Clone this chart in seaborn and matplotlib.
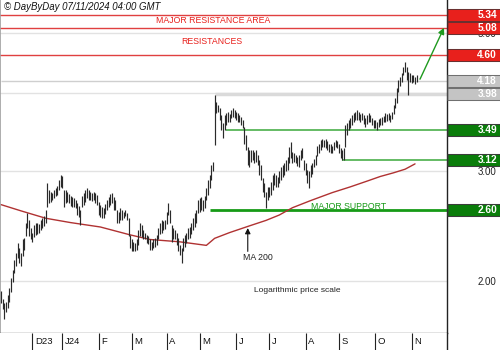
import matplotlib
matplotlib.use("Agg")
import matplotlib.pyplot as plt
import matplotlib.ticker as mticker
import matplotlib.transforms as mtransforms
import numpy as np
import pandas as pd
import seaborn as sns

# ---------------- data ----------------
highs = [
    1.93, 1.87, 1.84, 1.85, 1.90, 1.95, 2.02, 2.08, 2.16, 2.22,
    2.30, 2.26, 2.22, 2.33, 2.34, 2.48, 2.57, 2.50, 2.43, 2.39,
    2.46, 2.48, 2.48, 2.47, 2.50, 2.52, 2.54, 2.60, 2.87, 2.80,
    2.78, 2.77, 2.80, 2.82, 2.84, 2.90, 2.96, 2.95, 2.80, 2.80,
    2.78, 2.76, 2.74, 2.73, 2.72, 2.70, 2.67, 2.64, 2.60, 2.74,
    2.77, 2.80, 2.82, 2.80, 2.78, 2.77, 2.78, 2.77, 2.75, 2.68,
    2.65, 2.63, 2.62, 2.66, 2.70, 2.73, 2.76, 2.77, 2.73, 2.70,
    2.60, 2.58, 2.62, 2.60, 2.58, 2.60, 2.57, 2.52, 2.37, 2.33,
    2.31, 2.30, 2.33, 2.41, 2.48, 2.46, 2.41, 2.39, 2.37, 2.36,
    2.33, 2.31, 2.33, 2.34, 2.37, 2.43, 2.48, 2.50, 2.49, 2.50,
    2.58, 2.67, 2.60, 2.46, 2.43, 2.41, 2.39, 2.34, 2.28, 2.26,
    2.34, 2.37, 2.39, 2.43, 2.44, 2.48, 2.52, 2.57, 2.60, 2.70,
    2.72, 2.73, 2.70, 2.74, 2.82, 2.90, 2.96, 3.07, 3.10, 3.97,
    3.87, 3.83, 3.79, 3.69, 3.58, 3.69, 3.72, 3.73, 3.70, 3.76,
    3.79, 3.76, 3.73, 3.72, 3.69, 3.66, 3.62, 3.53, 3.43, 3.28,
    3.24, 3.24, 3.24, 3.22, 3.24, 3.18, 3.12, 3.07, 2.92, 2.87,
    2.78, 2.83, 2.83, 2.88, 2.96, 2.98, 2.96, 2.93, 3.00, 3.05,
    3.07, 3.09, 3.12, 3.16, 3.28, 3.34, 3.22, 3.21, 3.18, 3.16,
    3.18, 3.24, 3.26, 3.12, 3.09, 3.01, 3.00, 3.07, 3.09, 3.14,
    3.18, 3.29, 3.32, 3.36, 3.38, 3.36, 3.37, 3.35, 3.32, 3.31,
    3.29, 3.34, 3.36, 3.35, 3.31, 3.26, 3.24, 3.26, 3.56, 3.58,
    3.62, 3.65, 3.69, 3.72, 3.73, 3.76, 3.73, 3.70, 3.72, 3.69,
    3.65, 3.69, 3.72, 3.69, 3.65, 3.62, 3.62, 3.60, 3.64, 3.65,
    3.66, 3.68, 3.72, 3.70, 3.72, 3.69, 3.73, 3.83, 3.93, 4.07,
    4.20, 4.25, 4.30, 4.40, 4.49, 4.40, 4.33, 4.30, 4.27, 4.28,
    4.25, 4.27,
]
lows = [
    1.84, 1.80, 1.74, 1.78, 1.81, 1.85, 1.92, 1.99, 2.06, 2.11,
    2.18, 2.14, 2.11, 2.19, 2.24, 2.36, 2.43, 2.36, 2.33, 2.31,
    2.35, 2.37, 2.38, 2.39, 2.41, 2.43, 2.45, 2.48, 2.63, 2.67,
    2.68, 2.70, 2.72, 2.74, 2.75, 2.80, 2.83, 2.82, 2.63, 2.67,
    2.68, 2.67, 2.64, 2.63, 2.63, 2.62, 2.55, 2.53, 2.46, 2.63,
    2.65, 2.68, 2.72, 2.70, 2.70, 2.69, 2.70, 2.67, 2.65, 2.55,
    2.53, 2.52, 2.52, 2.56, 2.60, 2.63, 2.65, 2.67, 2.60, 2.60,
    2.48, 2.48, 2.50, 2.50, 2.52, 2.54, 2.50, 2.36, 2.26, 2.23,
    2.23, 2.23, 2.24, 2.28, 2.36, 2.35, 2.33, 2.33, 2.30, 2.29,
    2.24, 2.24, 2.26, 2.27, 2.28, 2.33, 2.38, 2.39, 2.41, 2.42,
    2.47, 2.55, 2.48, 2.31, 2.33, 2.33, 2.28, 2.23, 2.20, 2.14,
    2.23, 2.27, 2.30, 2.33, 2.34, 2.38, 2.41, 2.44, 2.48, 2.57,
    2.58, 2.60, 2.59, 2.62, 2.70, 2.75, 2.82, 2.90, 3.00, 3.30,
    3.72, 3.73, 3.62, 3.49, 3.39, 3.49, 3.56, 3.60, 3.59, 3.65,
    3.66, 3.65, 3.62, 3.60, 3.59, 3.56, 3.52, 3.32, 3.24, 3.07,
    3.05, 3.10, 3.12, 3.09, 3.10, 3.07, 2.96, 2.90, 2.78, 2.73,
    2.62, 2.70, 2.73, 2.75, 2.80, 2.85, 2.83, 2.83, 2.87, 2.90,
    2.93, 2.96, 3.00, 3.01, 3.09, 3.15, 3.09, 3.10, 3.09, 3.06,
    3.05, 3.12, 3.15, 3.01, 2.96, 2.87, 2.82, 2.93, 2.97, 3.04,
    3.07, 3.17, 3.21, 3.24, 3.28, 3.28, 3.26, 3.24, 3.22, 3.21,
    3.21, 3.24, 3.28, 3.26, 3.21, 3.15, 3.12, 3.12, 3.28, 3.43,
    3.49, 3.52, 3.56, 3.60, 3.62, 3.62, 3.62, 3.60, 3.62, 3.57,
    3.53, 3.57, 3.60, 3.59, 3.56, 3.52, 3.51, 3.49, 3.53, 3.56,
    3.56, 3.59, 3.60, 3.61, 3.62, 3.60, 3.63, 3.70, 3.79, 3.86,
    4.01, 4.10, 4.17, 4.27, 4.33, 4.20, 3.97, 4.17, 4.15, 4.17,
    4.14, 4.16,
]
ma_index = [0, 12, 27, 42, 60, 78, 90, 108, 124, 129, 138, 150, 160, 168,
            176, 187, 200, 211, 221, 229, 237, 244, 250]
ma_value = [2.65, 2.59, 2.52, 2.48, 2.44, 2.37, 2.33, 2.31, 2.28, 2.34, 2.39,
            2.45, 2.50, 2.55, 2.62, 2.69, 2.77, 2.83, 2.89, 2.94, 2.98, 3.02, 3.08]

month_starts = [19, 37, 59, 79, 100, 120, 142, 162, 184, 204, 226, 248]
month_labels = ["D23", "J24", "F", "M", "A", "M", "J", "J", "A", "S", "O", "N"]

resistance_levels = [5.34, 5.08, 4.60]
gray_levels = [4.18, 3.98]
support_levels = [3.49, 3.12, 2.60]
support_starts = [136, 206, 126]
gray_starts = [0, 129]
grid_values = [2.0, 3.0, 4.0, 5.0]

copyright_text = "\u00a9 DayByDay 07/11/2024 04:00 GMT"

# ---------------- styling ----------------
sns.set_theme(style="white")
plt.rcParams['font.family'] = ['Liberation Sans', 'DejaVu Sans']

RED = "#e8201c"
RED_LINE = "#e04040"
GREEN_BOX = "#0a7d0a"
GREEN_LINE = "#3aa83a"
GREEN_MAJOR = "#169a16"
GRAY_BOX = "#c4c4c4"

fig = plt.figure(figsize=(5, 3.5), dpi=100)
ax = fig.add_axes([0, 17 / 350, 447 / 500, 333 / 350])
axm = fig.add_axes([0, 0, 447 / 500, 17 / 350])

ymin, ymax = 1.650, 5.639
xmin, xmax = -0.6, 269.3

ax.set_yscale("log")
ax.set_ylim(ymin, ymax)
ax.set_xlim(xmin, xmax)

# grid / right ticks
ax.yaxis.set_major_locator(mticker.FixedLocator(grid_values))
ax.yaxis.set_minor_locator(mticker.NullLocator())
ax.yaxis.set_major_formatter(mticker.FuncFormatter(lambda v, p: f"{v:.2f}"))
ax.yaxis.tick_right()
ax.tick_params(axis="y", length=0, pad=22, labelsize=7, colors="#222222")
ax.set_xticks([])
ax.yaxis.grid(True, color="#e2e2e2", lw=1, zorder=0)
ax.set_axisbelow(True)

for side in ["top"]:
    ax.spines[side].set_visible(False)
ax.spines["left"].set_color("#a0a0a0")
ax.spines["left"].set_linewidth(1.2)
ax.spines["bottom"].set_color("#222222")
ax.spines["bottom"].set_linewidth(0.9)
ax.spines["right"].set_color("#222222")
ax.spines["right"].set_linewidth(1.0)

# level lines
for lv in resistance_levels:
    ax.axhline(lv, color=RED_LINE, lw=1.0, zorder=1)
ax.hlines(gray_levels[0], gray_starts[0], xmax, color="#cfcfcf", lw=1.0, zorder=1)
ax.hlines(gray_levels[1], gray_starts[1], xmax, color="#dadada", lw=2.5, zorder=1)
for lv, st in zip(support_levels, support_starts):
    if lv == support_levels[-1]:
        ax.hlines(lv, st, xmax, color=GREEN_MAJOR, lw=2.0, zorder=1)
    else:
        ax.hlines(lv, st, xmax, color=GREEN_LINE, lw=1.1, zorder=1)

# price bars
idx = np.arange(len(highs))
ax.vlines(idx, lows, highs, color="#2a2a2a", lw=0.85, zorder=3)

# moving average
ma_df = pd.DataFrame({"i": ma_index, "ma": ma_value})
sns.lineplot(data=ma_df, x="i", y="ma", ax=ax, color="#b03232", lw=1.0,
             estimator=None, sort=True, zorder=2)
ax.set_xlabel("")
ax.set_ylabel("")

# texts
ax.text(128, 5.23, "MAJOR RESISTANCE AREA", color=RED, fontsize=6.3,
        ha="center", va="center")
ax.text(127, 4.83, "RESISTANCES", color=RED, fontsize=6.3,
        ha="center", va="center")
ax.text(210, 2.63, "MAJOR SUPPORT", color=GREEN_MAJOR, fontsize=6.3,
        ha="center", va="center")
ax.text(155, 2.18, "MA 200", color="#222222", fontsize=6.3,
        ha="center", va="center")
ax.text(179, 1.93, "Logarithmic price scale", color="#222222", fontsize=6.0,
        ha="center", va="center")
ax.annotate("", xy=(149, 2.43), xytext=(149, 2.23),
            arrowprops=dict(arrowstyle="-|>", color="#111111", lw=0.8,
                            mutation_scale=8, shrinkA=0, shrinkB=0))
ax.annotate("", xy=(267.5, 5.09), xytext=(253, 4.21),
            arrowprops=dict(arrowstyle="-|>", color="#1f9a1f", lw=1.0,
                            mutation_scale=9, shrinkA=0, shrinkB=0),
            annotation_clip=False)

# right-hand level boxes
btrans = mtransforms.blended_transform_factory(ax.transAxes, ax.transData)
box_x0, box_x1, text_x = 1.001, 500 / 447, 497 / 447


def level_box(lv, face, edge):
    ax.plot([box_x0, box_x1], [lv, lv], transform=btrans, color=edge,
            lw=9.4, solid_capstyle="butt", clip_on=False, zorder=6)
    ax.plot([box_x0 + 0.002, box_x1], [lv, lv], transform=btrans, color=face,
            lw=7.9, solid_capstyle="butt", clip_on=False, zorder=7)
    ax.text(text_x, lv, f"{lv:.2f}", transform=btrans, ha="right", va="center",
            color="white", fontsize=7.3, fontweight="bold", zorder=8,
            clip_on=False)


for lv in resistance_levels:
    level_box(lv, RED, "#6a3030")
for lv in gray_levels:
    level_box(lv, GRAY_BOX, "#707070")
for lv in support_levels:
    level_box(lv, GREEN_BOX, "#3c3c3c")

# month strip
axm.set_xlim(xmin, xmax)
axm.set_ylim(0, 1)
axm.set_xticks([])
axm.set_yticks([])
for side in ["top", "left", "bottom"]:
    axm.spines[side].set_visible(False)
axm.spines["right"].set_color("#222222")
axm.spines["right"].set_linewidth(1.0)
axm.vlines(month_starts, 0, 1, color="#222222", lw=0.8)
for ms, lab in zip(month_starts, month_labels):
    axm.text(ms + 1.6, 0.5, lab, ha="left", va="center", fontsize=6.8,
             color="#111111")

# copyright
fig.text(4 / 500, 1 - 7.5 / 350, copyright_text, ha="left", va="center",
         style="italic", fontsize=6.9, color="#111111",
         bbox=dict(facecolor="white", edgecolor="none", pad=1.0))

fig.savefig("out.png", dpi=100)
